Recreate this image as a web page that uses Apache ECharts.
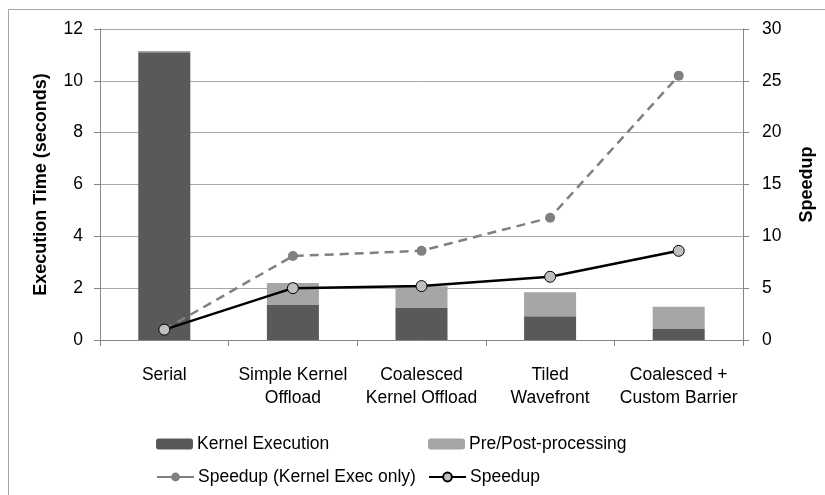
<!DOCTYPE html>
<html>
<head>
<meta charset="utf-8">
<script src="https://cdn.jsdelivr.net/npm/echarts@6/dist/echarts.min.js"></script>
<style>
  html, body { margin: 0; padding: 0; background: #fff; }
  #block1 { width: 825px; height: 495px; }
</style>
</head>
<body>
<div id="block1"></div>
<script>
var categories = ['Serial', 'Simple Kernel\nOffload', 'Coalesced\nKernel Offload', 'Tiled\nWavefront', 'Coalesced +\nCustom Barrier'];
var kernelExec = [11.1, 1.35, 1.25, 0.92, 0.42];
var prePost = [0.05, 0.85, 0.82, 0.92, 0.86];
var speedupKernel = [1, 8.1, 8.6, 11.8, 25.5];
var speedup = [1, 5.0, 5.2, 6.1, 8.6];

var font = 'Liberation Sans';
var axisGray = '#868686';

var option1 = {
    backgroundColor: '#fff',
    textStyle: {fontFamily: font},
    graphic: [{
        type: 'rect',
        shape: {x: 8.5, y: 9.5, width: 900, height: 600},
        style: {fill: 'none', stroke: '#a6a6a6', lineWidth: 1}
    }],
    grid: {left: 100, right: 82, top: 29, bottom: 155},
    legend: [
        {data: ['Kernel Execution'], left: 156, top: 435},
        {data: ['Pre/Post-processing'], left: 428, top: 435},
        {data: [{name: 'Speedup (Kernel Exec only)', lineStyle: {type: 'solid'}}], left: 156, top: 468},
        {data: ['Speedup'], left: 428, top: 468}
    ].map(function (l) {
        l.padding = 0;
        l.itemWidth = 37;
        l.itemHeight = 11;
        l.itemGap = 4;
        l.textStyle = {fontFamily: font, fontSize: 17.5, color: '#000', padding: [0, 0, 0, -1]};
        return l;
    }),
    xAxis: {
        type: 'category',
        data: categories,
        axisLine: {lineStyle: {color: axisGray}},
        axisTick: {show: true, length: 6, lineStyle: {color: axisGray}},
        axisLabel: {color: '#000', fontSize: 17.5, margin: 24, lineHeight: 23, interval: 0}
    },
    yAxis: [{
        type: 'value',
        min: 0, max: 12, interval: 2,
        name: 'Execution Time (seconds)',
        nameLocation: 'middle',
        nameGap: 50,
        nameTextStyle: {fontWeight: 'bold', fontSize: 18, color: '#000'},
        axisLine: {show: true, lineStyle: {color: axisGray}},
        axisTick: {show: true, length: 6, lineStyle: {color: axisGray}},
        axisLabel: {color: '#000', fontSize: 17.5, margin: 17},
        splitLine: {lineStyle: {color: '#a6a6a6', width: 1}}
    }, {
        type: 'value',
        min: 0, max: 30, interval: 5,
        name: 'Speedup',
        nameLocation: 'middle',
        nameGap: 55,
        nameTextStyle: {fontWeight: 'bold', fontSize: 18, color: '#000'},
        axisLine: {show: true, lineStyle: {color: axisGray}},
        axisTick: {show: true, length: 6, lineStyle: {color: axisGray}},
        axisLabel: {color: '#000', fontSize: 17.5, margin: 19},
        splitLine: {show: false}
    }],
    series: [{
        name: 'Kernel Execution',
        type: 'bar',
        stack: 'time',
        barWidth: 52,
        data: kernelExec,
        itemStyle: {color: '#595959'}
    }, {
        name: 'Pre/Post-processing',
        type: 'bar',
        stack: 'time',
        barWidth: 52,
        data: prePost,
        itemStyle: {color: '#a6a6a6'}
    }, {
        name: 'Speedup (Kernel Exec only)',
        type: 'line',
        yAxisIndex: 1,
        data: speedupKernel,
        symbol: 'circle',
        symbolSize: 10,
        lineStyle: {color: '#808080', width: 2.5, type: [9, 6]},
        itemStyle: {color: '#808080', borderWidth: 0}
    }, {
        name: 'Speedup',
        type: 'line',
        yAxisIndex: 1,
        data: speedup,
        symbol: 'circle',
        symbolSize: 11,
        lineStyle: {color: '#000', width: 2.5},
        itemStyle: {color: '#bfbfbf', borderColor: '#000', borderWidth: 1}
    }]
};
var chart1 = echarts.init(document.getElementById('block1'));
chart1.setOption(option1);
</script>
</body>
</html>
